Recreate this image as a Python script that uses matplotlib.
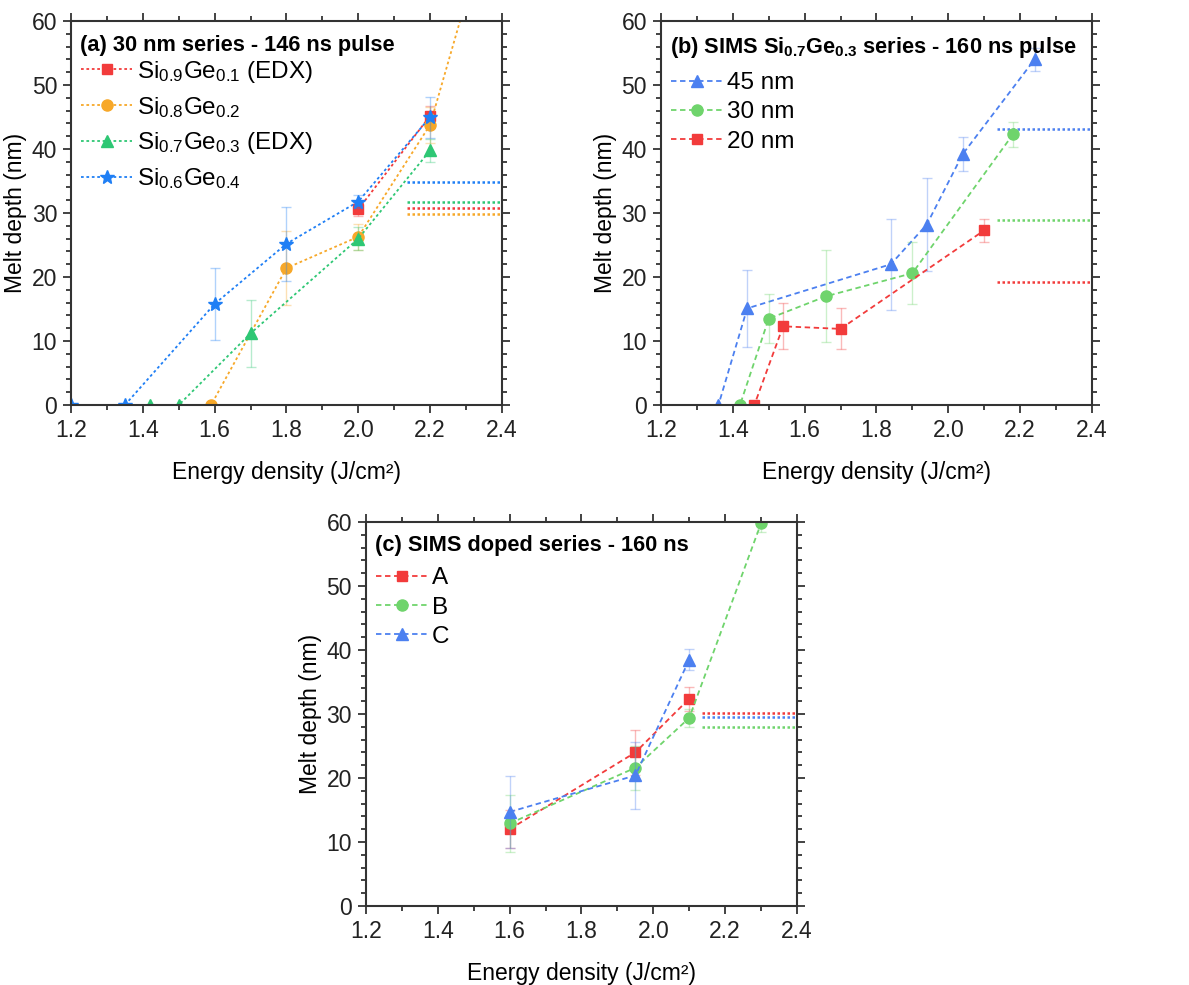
import matplotlib.pyplot as plt
from matplotlib.ticker import MultipleLocator

plt.rcParams['font.family'] = ['Liberation Sans', 'DejaVu Sans']
plt.rcParams['mathtext.fontset'] = 'custom'
plt.rcParams['mathtext.rm'] = 'Liberation Sans'
plt.rcParams['mathtext.it'] = 'Liberation Sans'
plt.rcParams['mathtext.bf'] = 'Liberation Sans:bold'

# ---------------- data: panel (a) ----------------
a_labels = [r'Si$_{0.9}$Ge$_{0.1}$ (EDX)', r'Si$_{0.8}$Ge$_{0.2}$',
            r'Si$_{0.7}$Ge$_{0.3}$ (EDX)', r'Si$_{0.6}$Ge$_{0.4}$']
a_x = [[2.0, 2.2],
       [1.1, 1.59, 1.8, 2.0, 2.2, 2.3],
       [1.1, 1.42, 1.5, 1.7, 2.0, 2.2],
       [1.2, 1.35, 1.6, 1.8, 2.0, 2.2]]
a_y = [[30.6, 45.2],
       [0, 0, 21.4, 26.3, 43.8, 63.3],
       [0, 0, 0, 11.2, 26.0, 39.8],
       [0, 0, 15.8, 25.2, 31.8, 45.0]]
a_err = [[1.0, 1.5],
         [0, 0, 5.8, 2.0, 2.8, 0],
         [0, 0, 0, 5.2, 1.8, 1.8],
         [0, 0, 5.6, 5.8, 1.0, 3.2]]
a_ref = [30.8, 29.8, 31.8, 34.8]

# ---------------- data: panel (b) ----------------
b_labels = ['45 nm', '30 nm', '20 nm']
b_x = [[1.1, 1.36, 1.44, 1.84, 1.94, 2.04, 2.24],
       [1.1, 1.42, 1.5, 1.66, 1.9, 2.18],
       [1.1, 1.46, 1.54, 1.7, 2.1]]
b_y = [[0, 0, 15.1, 22.0, 28.2, 39.2, 54.0],
       [0, 0, 13.5, 17.0, 20.6, 42.3],
       [0, 0, 12.3, 11.9, 27.3]]
b_err = [[0, 0, 6.0, 7.1, 7.2, 2.7, 1.8],
         [0, 0, 3.8, 7.2, 4.8, 1.9],
         [0, 0, 3.6, 3.2, 1.8]]
b_ref = [43.2, 28.9, 19.2]

# ---------------- data: panel (c) ----------------
c_labels = ['A', 'B', 'C']
c_x = [[1.6, 1.95, 2.1],
       [1.6, 1.95, 2.1, 2.3],
       [1.6, 1.95, 2.1]]
c_y = [[12.0, 24.0, 32.4],
       [12.9, 21.6, 29.4, 59.8],
       [14.7, 20.4, 38.5]]
c_err = [[3.0, 3.5, 1.9],
         [4.5, 3.4, 1.4, 1.3],
         [5.6, 5.2, 1.6]]
c_ref = [30.2, 28.0, 29.6]

RED = '#f23b3b'
ORANGE = '#f7a829'
GREEN_A = '#2ec774'
BLUE_A = '#1f7ff5'
GREEN = '#6fd46c'
BLUE = '#4c80f0'


def setup_axes(ax):
    ax.set_xlim(1.2, 2.4)
    ax.set_ylim(0, 60)
    ax.xaxis.set_major_locator(MultipleLocator(0.2))
    ax.xaxis.set_minor_locator(MultipleLocator(0.1))
    ax.yaxis.set_major_locator(MultipleLocator(10))
    ax.yaxis.set_minor_locator(MultipleLocator(2))
    ax.xaxis.set_major_formatter(plt.FuncFormatter(lambda v, p: f'{v:.1f}'))
    ax.tick_params(which='both', direction='out', top=True, right=True,
                   labelsize=16.5, width=1.2, colors='#222222', pad=4)
    ax.tick_params(which='major', length=6)
    ax.tick_params(which='minor', length=3.5)
    for s in ax.spines.values():
        s.set_linewidth(1.5)
        s.set_color('#333333')
    ax.set_xlabel('Energy density (J/cm²)', fontsize=16.5, labelpad=14)
    ax.set_ylabel('Melt depth (nm)', fontsize=16.5, labelpad=3)


def draw_panel(ax, title, labels, xs, ys, errs, refs, colors, markers, msizes, ls,
               leg_y, leg_sp):
    setup_axes(ax)
    for lab, x, y, e, r, c, m, ms in zip(labels, xs, ys, errs, refs, colors, markers, msizes):
        ax.errorbar(x, y, yerr=e, fmt='none', ecolor=c, alpha=0.35,
                    elinewidth=1, capsize=3.5, capthick=1)
        ax.plot(x, y, ls=ls, dashes=(3, 2) if ls == '--' else (1.5, 1.5),
                color=c, lw=1.3, marker=m, ms=ms, label=lab)
        ax.plot([2.135, 2.4], [r, r], ls=(0, (1, 1)), color=c, lw=1.8)
    ax.text(0.02, 0.965, title, transform=ax.transAxes, fontsize=15.7,
            fontweight='bold', va='top', ha='left')
    ax.legend(loc='upper left', bbox_to_anchor=(-0.01, leg_y), frameon=False,
              fontsize=17.5, handlelength=2.1, handletextpad=0.2,
              labelspacing=leg_sp, borderaxespad=0.2)


fig = plt.figure(figsize=(11.89, 9.85), dpi=100)
ax_a = fig.add_axes([0.0597, 0.5888, 0.3625, 0.3898])
ax_b = fig.add_axes([0.5559, 0.5888, 0.3625, 0.3898])
ax_c = fig.add_axes([0.3078, 0.0802, 0.3625, 0.3898])

draw_panel(ax_a, '(a) 30 nm series - 146 ns pulse', a_labels, a_x, a_y, a_err, a_ref,
           [RED, ORANGE, GREEN_A, BLUE_A], ['s', 'o', '^', '*'], [7, 8, 8, 10], ':',
           0.94, 0.42)
draw_panel(ax_b, r'(b) SIMS Si$_{\mathbf{0.7}}$Ge$_{\mathbf{0.3}}$ series - 160 ns pulse',
           b_labels, b_x, b_y, b_err, b_ref,
           [BLUE, GREEN, RED], ['^', 'o', 's'], [9, 8, 7], '--',
           0.905, 0.3)
draw_panel(ax_c, '(c) SIMS doped series - 160 ns', c_labels, c_x, c_y, c_err, c_ref,
           [RED, GREEN, BLUE], ['s', 'o', '^'], [7, 8, 9], '--',
           0.92, 0.3)

fig.savefig('out.png', dpi=100)
